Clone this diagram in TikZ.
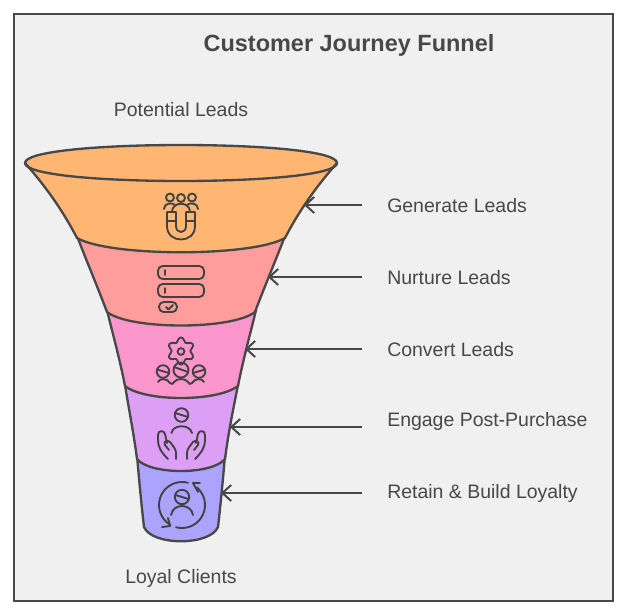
\documentclass[tikz,border=0pt]{standalone}
\usepackage{fontspec}
\setmainfont{Liberation Sans}
\usetikzlibrary{arrows.meta}
\definecolor{ink}{HTML}{484848}
\definecolor{bg}{HTML}{F0F0F0}
\definecolor{txt}{HTML}{484848}
\definecolor{layA}{HTML}{FFB672}
\definecolor{layB}{HTML}{FF9C9C}
\definecolor{layC}{HTML}{FB96CC}
\definecolor{layD}{HTML}{DC9FF5}
\definecolor{layE}{HTML}{ACA3FD}
\tikzset{
  funnelline/.style={draw=ink,line width=1.75pt,line join=round},
  ico/.style={draw=ink!90!black,line width=1.4pt,line cap=round,line join=round},
  lab/.style={text=txt,font=\fontsize{14.6pt}{17pt}\selectfont,anchor=west,inner xsep=18.75pt,inner ysep=0pt},
  captext/.style={text=txt,font=\fontsize{14.6pt}{17pt}\selectfont,anchor=center,inner sep=0pt},
  pointer/.style={draw=ink,line width=1.5pt,-{Straight Barb[length=6.5pt,width=12pt,line width=1.5pt]}},
}
\begin{document}
\begin{tikzpicture}[x=0.75pt,y=-0.75pt]
\useasboundingbox (0,0) rectangle (627,614);
\draw[ink,line width=1.5pt,fill=bg] (13.5,13.5) rectangle (613,601);
\node[text=txt,font=\bfseries\fontsize{17.6pt}{20pt}\selectfont,inner sep=0pt] (title) at (349,45) {Customer Journey Funnel};
\node[captext] (top) at (181,110) {Potential Leads};
\node[captext] (bot) at (181,578.5) {Loyal Clients};
% layers, bottom to top
\path[funnelline,fill=layE] (137,455) .. controls (139,480) and (142,510) .. (144,527) .. controls (152,546) and (210,546) .. (218,527) .. controls (220,510) and (223,480) .. (225,455) -- cycle;
\path[funnelline,fill=layD] (125,385) .. controls (129,410) and (134,435) .. (137,459) .. controls (150,475) and (212,475) .. (225,459) .. controls (228,435) and (233,410) .. (238,385) -- cycle;
\path[funnelline,fill=layC] (107,310) .. controls (113,335) and (120,360) .. (125,386) .. controls (145,402) and (217,402) .. (238,386) .. controls (243,360) and (250,335) .. (256,310) -- cycle;
\path[funnelline,fill=layB] (77,236) .. controls (87,262) and (98,288) .. (107,312) .. controls (130,330) and (232,330) .. (255,312) .. controls (264,288) and (275,262) .. (285,236) -- cycle;
\path[funnelline,fill=layA] (25,163) .. controls (40,180) and (60,205) .. (77,238) .. controls (110,257) and (252,257) .. (285,238) .. controls (302,205) and (322,180) .. (337,163) .. controls (337,151) and (260,145) .. (181,145) .. controls (102,145) and (25,151) .. (25,163) -- cycle;
\path[funnelline] (25,163) .. controls (25,175) and (102,181) .. (181,181) .. controls (260,181) and (337,175) .. (337,163);
% labels and pointers
\node[lab] (l1) at (362,205.5) {Generate Leads};
\node[lab] (l2) at (362,277.5) {Nurture Leads};
\node[lab] (l3) at (362,349.5) {Convert Leads};
\node[lab] (l4) at (362,421.5) {Engage Post-Purchase};
\node[lab] (l5) at (362,493.5) {Retain \& Build Loyalty};
\coordinate (p1) at (304,205);
\coordinate (p2) at (268,277);
\coordinate (p3) at (245,349);
\coordinate (p4) at (230,427);
\coordinate (p5) at (221,493);
\draw[pointer] (l1.west |- p1) -- (p1);
\draw[pointer] (l2.west |- p2) -- (p2);
\draw[pointer] (l3.west |- p3) -- (p3);
\draw[pointer] (l4.west |- p4) -- (p4);
\draw[pointer] (l5.west |- p5) -- (p5);
% icon 1: people and magnet
\path[ico] (170,197.5) circle (4) (181,198) circle (4) (192,197.5) circle (4);
\path[ico] (164,209) .. controls (164,203) and (172,202) .. (175,205);
\path[ico] (187,205) .. controls (190,202) and (198,203) .. (198,209);
\path[ico] (172,212) .. controls (172,201) and (190,201) .. (190,212);
\path[ico] (167,212) -- (176,212) -- (176,226) .. controls (176,234) and (186,234) .. (186,226) -- (186,212) -- (195,212) -- (195,226) .. controls (195,244) and (167,244) .. (167,226) -- cycle;
\path[ico] (167,221) -- (176,221) (186,221) -- (195,221);
% icon 2: form
\path[ico,rounded corners=3.5pt] (158,266) rectangle (204,279);
\path[ico,rounded corners=3.5pt] (158,284) rectangle (204,297);
\path[ico,rounded corners=3.5pt] (159,302) rectangle (177,312);
\path[ico] (165,270) -- (165,275) (165,288) -- (165,293) (166,307) -- (168.5,309.5) -- (173,305);
% icon 3: gear and group
\path[ico] plot[smooth cycle,samples=37,domain=0:350] ({181+(11.5+2.2*cos(6*\x))*sin(\x)},{351-(11.5+2.2*cos(6*\x))*cos(\x)});
\path[ico] (181,351.5) circle (3.4);
\path[ico] (181,370) circle (7.5) (163,371.5) circle (6.3) (199,371.5) circle (6.3);
\path[ico] (174,367) -- (188,372) (157,369.5) -- (169,373) (193,373) -- (205,369.5);
\path[ico] (158,382) .. controls (160,378) and (167,378) .. (170,383) .. controls (172,385) and (173,384) .. (174,382) .. controls (177,378) and (185,378) .. (188,382) .. controls (189,384) and (190,385) .. (192,383) .. controls (195,378) and (202,378) .. (204,382);
% icon 4: person and hands
\path[ico] (181.5,415) circle (6.8);
\path[ico] (175,413) -- (188,417);
\path[ico] (171.5,433) .. controls (173,424) and (190,424) .. (192,433);
\path[ico] (168,459) .. controls (161,452) and (158,447) .. (158,440) -- (158,435) .. controls (158,430) and (164,430) .. (165,434) -- (167,443);
\path[ico] (176,459) -- (176,453) .. controls (176,449) and (173,446) .. (170,442) .. controls (167,439) and (163,442) .. (165,445) -- (169,450);
\path[ico] (195,459) .. controls (202,452) and (205,447) .. (205,440) -- (205,435) .. controls (205,430) and (199,430) .. (198,434) -- (196,443);
\path[ico] (187,459) -- (187,453) .. controls (187,449) and (190,446) .. (193,442) .. controls (196,439) and (200,442) .. (198,445) -- (194,450);
% icon 5: retain
\path[ico] (182,497) circle (7.2);
\path[ico] (175.5,495) -- (188.5,499);
\path[ico] (171,515) .. controls (173,503) and (191,503) .. (193,515);
\path[ico] plot[smooth,samples=20,domain=75:240] ({182+23*cos(\x)},{505-23*sin(\x)});
\path[ico] plot[smooth,samples=20,domain=255:410] ({182+23*cos(\x)},{505-23*sin(\x)});
\path[ico] (162,527) -- (170,526) -- (168,518);
\path[ico] (200,483) -- (193,483) -- (198,492);
\end{tikzpicture}
\end{document}
